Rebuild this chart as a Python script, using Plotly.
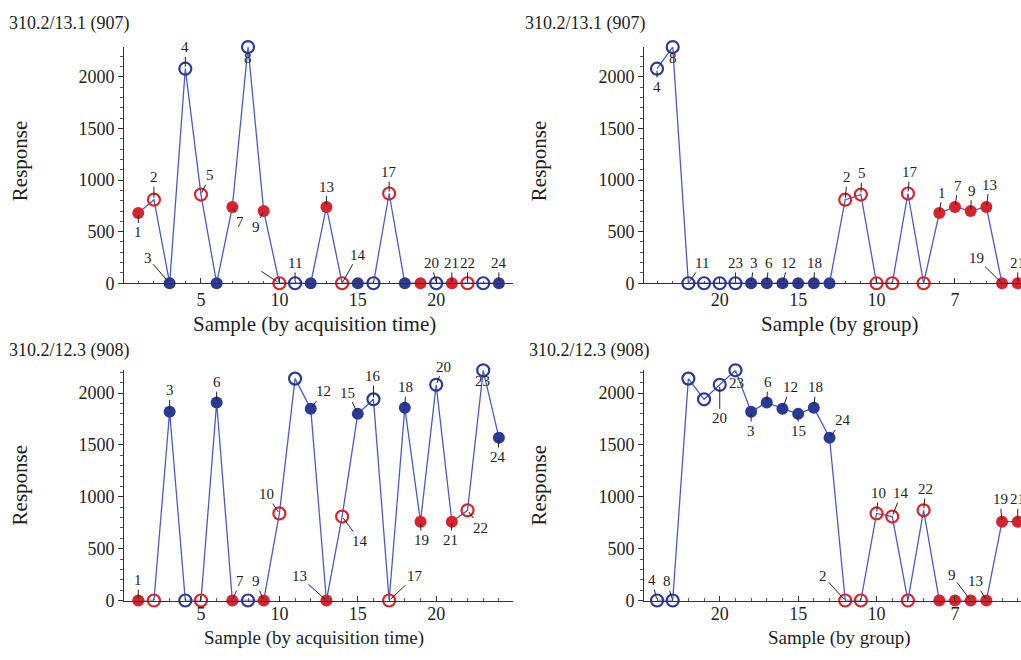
import plotly.graph_objects as go

# ---------------- data ----------------
samples = list(range(1, 25))
resp_907 = [680, 810, 0, 2080, 860, 0, 740, 2290, 700, 0, 0, 0,
            740, 0, 0, 0, 870, 0, 0, 0, 0, 0, 0, 0]
resp_908 = [0, 0, 1820, 0, 0, 1910, 0, 0, 0, 840, 2140, 1850,
            0, 810, 1800, 1940, 0, 1860, 760, 2080, 760, 870, 2220, 1570]

blue_open = [4, 8, 11, 16, 20, 23]
blue_filled = [3, 6, 12, 15, 18, 24]
red_open = [2, 5, 10, 14, 17, 22]
red_filled = [1, 7, 9, 13, 19, 21]
group_order = blue_open + blue_filled + red_open + red_filled

left_tickvals = [5, 10, 15, 20]
right_tickvals = [20, 15, 10, 5]
right_ticktext = ["20", "15", "10", "7"]
y_tickvals = [0, 500, 1000, 1500, 2000]

titles = ["310.2/13.1 (907)", "310.2/12.3 (908)"]

# label offsets in pixels (style only)
OFF_TL = {1: (0, 19), 2: (0, -22), 3: (-22, -25), 4: (0, -21), 5: (9, -19), 7: (8, 15),
          8: (0, 11), 9: (-8, 16), 11: (0, -20), 13: (0, -20), 14: (16, -28),
          17: (0, -21), 20: (-5, -20), 21: (0, -20), 22: (0, -20), 24: (0, -20)}
BLANK_TL = {10: (-20, -13)}
OFF_TR = {4: (0, 18), 8: (0, 11), 11: (14, -20), 23: (0, -20), 3: (3, -20), 6: (2, -20),
          12: (6, -20), 18: (1, -20), 2: (2, -22), 5: (1, -21), 17: (2, -21), 1: (3, -20),
          7: (3, -21), 9: (1, -20), 13: (3, -22), 19: (-26, -25), 21: (0, -20)}
OFF_BL = {1: (0, -20), 3: (0, -21), 6: (0, -20), 7: (8, -19), 9: (-8, -19), 10: (-13, -19),
          12: (13, -17), 13: (-27, -24), 14: (18, 24), 15: (-10, -21), 16: (0, -23),
          17: (26, -24), 18: (1, -20), 19: (1, 18), 20: (7, -18), 21: (-1, 18),
          22: (13, 17), 23: (-1, 11), 24: (-1, 19)}
OFF_BR = {4: (-5, -20), 8: (-6, -19), 20: (0, 33), 23: (1, 12), 3: (0, 19), 6: (1, -20),
          12: (8, -21), 15: (0, 17), 18: (2, -20), 24: (13, -17), 2: (-22, -24),
          10: (2, -20), 14: (9, -23), 22: (2, -21), 9: (-19, -25), 13: (-11, -19),
          19: (-2, -22), 21: (0, -22)}

# ---------------- styles ----------------
W, H = 1021, 660
K = 0.984  # vertical compensation of the capture
FONT = "Liberation Serif, Times New Roman, serif"
TXT = "#1e1e1e"
LINE_BLUE = "#4a5cc4"
BLUE = "#2b3a94"
RED = "#d7232b"

fig = go.Figure()


def px_x(p):
    return p / W


def px_y(p):
    return 1 - (p / K) / H


left_dom = [px_x(124), px_x(513)]
right_dom = [px_x(644), 1.0]
top_dom = [px_y(283), px_y(47)]
bot_dom = [px_y(600), px_y(370)]

panels = [
    ("", left_dom, top_dom, resp_907, False, 2290, OFF_TL, BLANK_TL, 0),
    ("2", right_dom, top_dom, resp_907, True, 2290, OFF_TR, {}, 0),
    ("3", left_dom, bot_dom, resp_908, False, 2220, OFF_BL, {}, -3),
    ("4", right_dom, bot_dom, resp_908, True, 2220, OFF_BR, {}, -3),
]

annotations = []

for suf, xd, yd, resp, by_group, ytop, offs, blanks, lab_off in panels:
    xa = "x" + suf
    ya = "y" + suf
    if by_group:
        order = group_order
        xpos = {s: 24 - i for i, s in enumerate(order)}
    else:
        order = samples
        xpos = {s: s for s in samples}
    xs = [xpos[s] for s in order]
    ys = [resp[s - 1] for s in order]
    fig.add_trace(go.Scatter(x=xs, y=ys, mode="lines", xaxis=xa, yaxis=ya,
                             line=dict(color=LINE_BLUE, width=1.3), showlegend=False,
                             hoverinfo="skip"))
    for grp, col, filled in [(blue_open, BLUE, False), (blue_filled, BLUE, True),
                             (red_open, RED, False), (red_filled, RED, True)]:
        gx = [xpos[s] for s in grp]
        gy = [resp[s - 1] for s in grp]
        if filled:
            mk = dict(symbol="circle", size=12, color=col, line=dict(width=0))
        else:
            mk = dict(symbol="circle-open", size=12, color=col, line=dict(width=2.2, color=col))
        fig.add_trace(go.Scatter(x=gx, y=gy, mode="markers", xaxis=xa, yaxis=ya,
                                 marker=mk, showlegend=False, cliponaxis=False))
    for s, (dx, dy) in offs.items():
        annotations.append(dict(x=xpos[s], y=resp[s - 1], xref=xa, yref=ya,
                                text=str(s), showarrow=True, arrowhead=0, arrowwidth=1,
                                arrowcolor="#222", ax=dx, ay=dy / K, standoff=2,
                                font=dict(family=FONT, size=15, color=TXT)))
    for s, (dx, dy) in blanks.items():
        annotations.append(dict(x=xpos[s], y=resp[s - 1], xref=xa, yref=ya,
                                text=" ", showarrow=True, arrowhead=0, arrowwidth=1,
                                arrowcolor="#222", ax=dx, ay=dy / K, standoff=2,
                                font=dict(family=FONT, size=4, color=TXT)))

    axkey = "xaxis" + suf
    aykey = "yaxis" + suf
    if by_group:
        xaxis = dict(domain=xd, range=[24.83, 0.79], tickvals=right_tickvals,
                     ticktext=right_ticktext)
    else:
        xaxis = dict(domain=xd, range=[0.09, 24.9], tickvals=left_tickvals)
    xaxis.update(anchor=ya, showline=True, linecolor="#333", linewidth=1,
                 showgrid=False, zeroline=False, ticks="inside", ticklen=5,
                 tickcolor="#333", tickfont=dict(family=FONT, size=18, color=TXT),
                 ticklabelstandoff=lab_off,
                 minor=dict(dtick=1, tick0=0, ticks="inside", ticklen=2.5, tickcolor="#555"))
    yaxis = dict(domain=yd, range=[0, ytop], anchor=xa, tickvals=y_tickvals,
                 showline=True, linecolor="#333", linewidth=1, showgrid=False,
                 zeroline=False, ticks="outside", ticklen=5, tickcolor="#333",
                 tickfont=dict(family=FONT, size=18, color=TXT),
                 minor=dict(dtick=100, tick0=0, ticks="outside", ticklen=3, tickcolor="#555"))
    fig.layout[axkey] = xaxis
    fig.layout[aykey] = yaxis

# panel titles
for (tx, ty), t in zip([(7, 23), (7, 350)], titles):
    annotations.append(dict(x=px_x(tx), y=px_y(ty), xref="paper", yref="paper",
                            text=t, showarrow=False, xanchor="left", yanchor="middle",
                            font=dict(family=FONT, size=18, color=TXT)))
for (tx, ty), t in zip([(523, 23), (527, 350)], titles):
    annotations.append(dict(x=px_x(tx), y=px_y(ty), xref="paper", yref="paper",
                            text=t, showarrow=False, xanchor="left", yanchor="middle",
                            font=dict(family=FONT, size=18, color=TXT)))

# x axis titles
for cx, t in [(314, "Sample (by acquisition time)"), (839, "Sample (by group)")]:
    annotations.append(dict(x=px_x(cx), y=px_y(324), xref="paper", yref="paper",
                            text=t, showarrow=False, xanchor="center", yanchor="middle",
                            font=dict(family=FONT, size=21, color=TXT)))
    annotations.append(dict(x=px_x(cx), y=0, xref="paper", yref="paper",
                            text=t, showarrow=False, xanchor="center", yanchor="bottom",
                            borderpad=0,
                            font=dict(family=FONT, size=19, color=TXT)))
# y axis titles
for cx, cy in [(20, 161), (20, 485), (539, 161), (539, 485)]:
    annotations.append(dict(x=px_x(cx), y=px_y(cy), xref="paper", yref="paper",
                            text="Response", showarrow=False, textangle=-90,
                            xanchor="center", yanchor="middle",
                            font=dict(family=FONT, size=21, color=TXT)))

fig.update_layout(width=W, height=H, autosize=False,
                  margin=dict(l=0, r=0, t=0, b=0),
                  paper_bgcolor="white", plot_bgcolor="white",
                  annotations=annotations, showlegend=False)

fig.write_html("out.html")
